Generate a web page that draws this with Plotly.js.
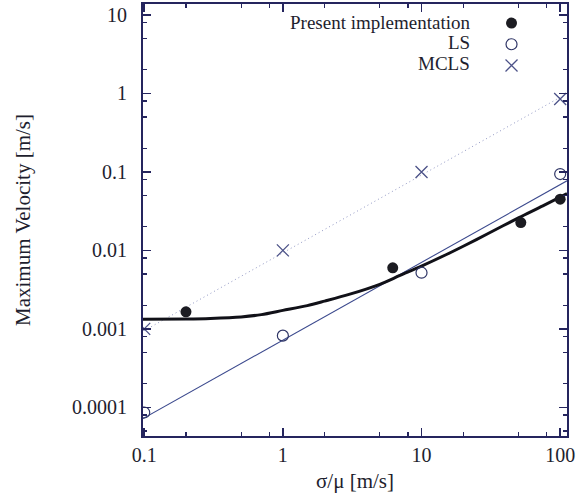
<!DOCTYPE html>
<html>
<head>
<meta charset="utf-8">
<script src="https://cdn.plot.ly/plotly-3.0.1.min.js"></script>
<style>html,body{margin:0;padding:0;background:#fff;}#chart{width:580px;height:504px;}</style>
</head>
<body>
<div id="chart"></div>
<script>
// ---- data ----
const presentX = [0.2, 6.2, 52, 100];
const presentY = [0.00165, 0.006, 0.0226, 0.045];
const lsX = [0.1, 1, 10, 100];
const lsY = [0.000086, 0.00082, 0.0052, 0.094];
const mclsX = [0.1, 1, 10, 100];
const mclsY = [0.001, 0.01, 0.1, 0.85];
// fitted curves
const presentFitX = [0.098, 0.2, 0.3, 0.5, 0.7, 1, 1.5, 2, 3, 5, 7, 10, 15, 20, 30, 50, 75, 112];
const presentFitY = [0.00133, 0.00134, 0.00136, 0.00142, 0.00152, 0.00172, 0.00198, 0.00226, 0.00275, 0.0037, 0.0048, 0.0063, 0.0088, 0.0113, 0.0163, 0.026, 0.037, 0.053];
const lsFitX = [0.098, 112];
const lsFitY = [0.000072, 0.077];
const mclsFitX = [0.1, 112];
const mclsFitY = [0.00095, 1.0];
// ticks
const xTickVals = [0.1, 1, 10, 100];
const xTickText = ['0.1', '1', '10', '100'];
const xMinorVals = [0.2, 0.5, 0.8, 2, 5, 8, 20, 50, 80];
const yTickVals = [0.0001, 0.001, 0.01, 0.1, 1, 10];
const yTickText = ['0.0001', '0.001', '0.01', '0.1', '1', '10'];
const yMinorVals = [0.00005, 0.00008, 0.0002, 0.0005, 0.0008, 0.002, 0.005, 0.008, 0.02, 0.05, 0.08, 0.2, 0.5, 0.8, 2, 5, 8];
const seriesNames = ['Present implementation', 'LS', 'MCLS'];

const frame = '#25255e';
const textCol = '#1e1e2e';
const font = 'Liberation Serif, Times New Roman, serif';

const traces = [
  {x: mclsFitX, y: mclsFitY, mode: 'lines', line: {color: '#9298c4', width: 1, dash: '1px,3px'}, showlegend: false, hoverinfo: 'skip'},
  {x: lsFitX, y: lsFitY, mode: 'lines', line: {color: '#3c4a8e', width: 1.1}, showlegend: false, hoverinfo: 'skip'},
  {x: presentFitX, y: presentFitY, mode: 'lines', line: {color: '#111118', width: 3, shape: 'spline', smoothing: 0.8}, showlegend: false, hoverinfo: 'skip'},
  {x: presentX, y: presentY, mode: 'markers', name: ' ', marker: {symbol: 'circle', size: 11, color: '#1c1c22'}},
  {x: lsX, y: lsY, mode: 'markers', name: ' ', marker: {symbol: 'circle-open', size: 11, color: '#2f3566', line: {width: 1.2}}},
  {x: mclsX, y: mclsY, mode: 'markers', name: ' ', marker: {symbol: 'x-thin-open', size: 12, color: '#4c5288', line: {width: 1.3}}}
];

const axisCommon = {
  type: 'log', showgrid: false, zeroline: false, showline: true, linecolor: frame, linewidth: 2,
  mirror: 'allticks', ticks: 'inside', ticklen: 8, tickwidth: 1.5, tickcolor: frame,
  tickmode: 'array', tickfont: {family: font, size: 20, color: textCol}
};

const layout = {
  width: 580, height: 504,
  margin: {l: 143, r: 13, t: 4, b: 68},
  paper_bgcolor: '#fff', plot_bgcolor: '#fff',
  font: {family: font, color: textCol},
  xaxis: Object.assign({}, axisCommon, {
    range: [Math.log10(0.098), Math.log10(112)],
    tickvals: xTickVals, ticktext: xTickText,
    minor: {tickmode: 'array', tickvals: xMinorVals, ticks: 'inside', ticklen: 4, tickwidth: 1.2, tickcolor: frame, showgrid: false},
    title: {text: 'σ/μ [m/s]', font: {family: font, size: 21, color: textCol}, standoff: 8}
  }),
  yaxis: Object.assign({}, axisCommon, {
    range: [-4.365, 1.14],
    tickvals: yTickVals, ticktext: yTickText, ticklabelstandoff: 10,
    minor: {tickmode: 'array', tickvals: yMinorVals, ticks: 'inside', ticklen: 4, tickwidth: 1.2, tickcolor: frame, showgrid: false},
    title: {text: 'Maximum Velocity [m/s]', font: {family: font, size: 21, color: textCol}, standoff: 36}
  }),
  showlegend: true,
  legend: {x: 0.822, y: 0.992, xanchor: 'left', yanchor: 'top', bgcolor: 'rgba(0,0,0,0)', borderwidth: 0,
           font: {family: font, size: 14}, tracegroupgap: 0, itemwidth: 30},
  annotations: seriesNames.map((t, i) => ({
    xref: 'paper', yref: 'paper', x: 0.776, y: 0.958 - i * 0.0475, xanchor: 'right', yanchor: 'middle',
    text: t, showarrow: false, font: {family: font, size: 19, color: textCol}
  }))
};

Plotly.newPlot('chart', traces, layout, {displayModeBar: false, staticPlot: true});
</script>
</body>
</html>
